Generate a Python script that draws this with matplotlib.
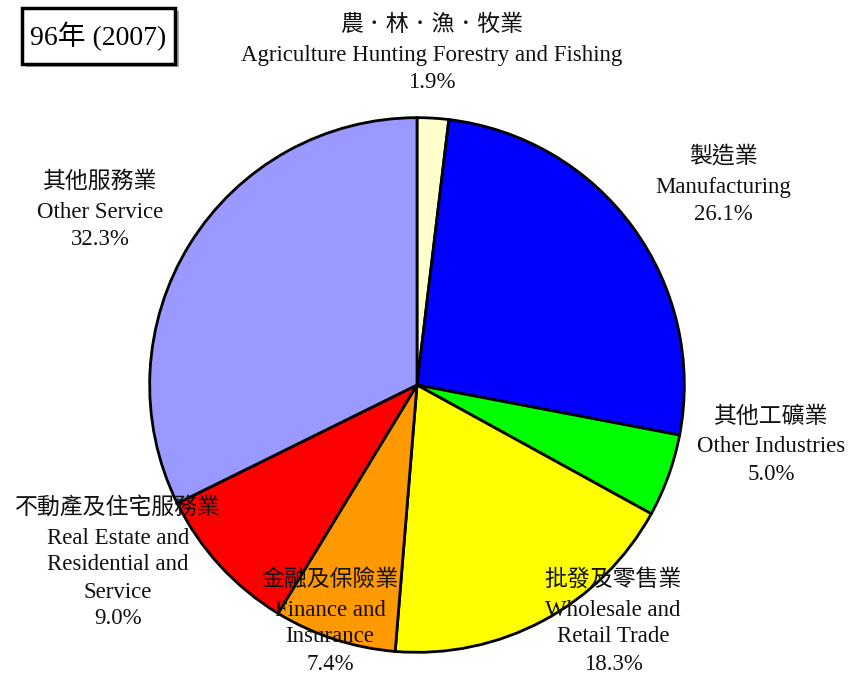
import matplotlib.pyplot as plt
from matplotlib.patches import Rectangle

# datos del gráfico (96年, 2007)
nombres_zh = ["農．林．漁．牧業", "製造業", "其他工礦業", "批發及零售業",
              "金融及保險業", "不動產及住宅服務業", "其他服務業"]
nombres_en = [["Agriculture Hunting Forestry and Fishing"],
              ["Manufacturing"],
              ["Other Industries"],
              ["Wholesale and", "Retail Trade"],
              ["Finance and", "Insurance"],
              ["Real Estate and", "Residential and", "Service"],
              ["Other Service"]]
valores = [1.9, 26.1, 5.0, 18.3, 7.4, 9.0, 32.3]
colores = ["#FFFFCC", "#0000FF", "#00FF00", "#FFFF00", "#FF9900", "#FF0000", "#9999FF"]

W, H = 852, 673
FUENTE = ['Liberation Serif', 'Noto Sans CJK TC']

fig = plt.figure(figsize=(W / 100, H / 100), dpi=100)

# pastel: centro (417, 385) px, radio 270 px
cx, cy, r = 417, 385, 270
ax = fig.add_axes([(cx - r) / W, 1 - (cy + r) / H, 2 * r / W, 2 * r / H])
ax.pie(valores, colors=colores, startangle=90, counterclock=False,
       wedgeprops=dict(edgecolor='black', linewidth=2))
ax.set_xlim(-1.01, 1.01)
ax.set_ylim(-1.01, 1.01)
ax.set_axis_off()

# posiciones de las etiquetas (x centro, y primera línea) en píxeles
pos_etiquetas = [(432, 25), (723, 157), (771, 417), (613, 580),
                 (330, 580), (118, 508), (100, 182)]
paso = 27

def px(x, y):
    return x / W, 1 - y / H

for i in range(len(valores)):
    x0, y0 = pos_etiquetas[i]
    lineas = [nombres_zh[i]] + nombres_en[i] + [f"{valores[i]:.1f}%"]
    for k, t in enumerate(lineas):
        y = y0 + k * paso + (3 if k > 0 else 0)
        fig.text(*px(x0, y), t, ha='center', va='center', fontsize=16.5,
                 family=FUENTE, color='#111111')

# caja del título con sombra
fig.patches.append(Rectangle(px(26, 67), 153 / W, 56 / H, transform=fig.transFigure,
                             facecolor='#aaaaaa', edgecolor='none', zorder=5))
fig.patches.append(Rectangle(px(22, 64), 153 / W, 56 / H, transform=fig.transFigure,
                             facecolor='white', edgecolor='black', linewidth=2.5, zorder=6))
fig.text(*px(98, 36), "96年 (2007)", ha='center', va='center', fontsize=20,
         family=FUENTE, zorder=7)

fig.savefig("out.png", dpi=100)
